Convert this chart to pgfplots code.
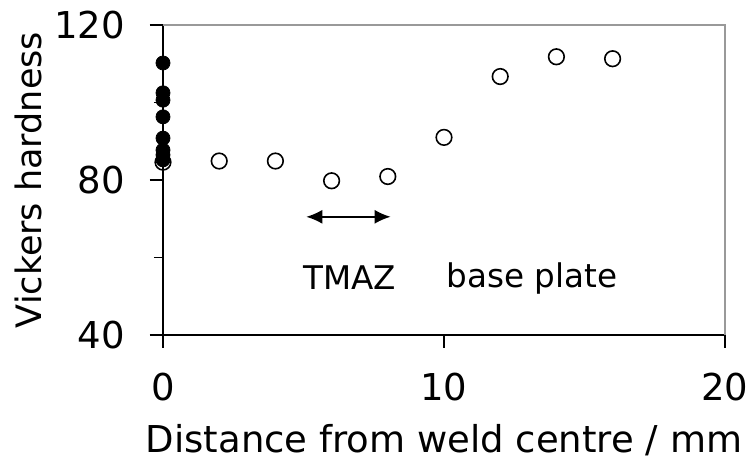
\documentclass[border=0pt]{standalone}
\usepackage{fontspec}
\setmainfont{DejaVu Sans}
\usepackage{pgfplots}
\pgfplotsset{compat=1.18}
\usetikzlibrary{arrows.meta,calc}
\begin{document}
\begin{tikzpicture}
\begin{axis}[name=ax, scale only axis, width=281pt, height=155pt,
  xmin=0, xmax=20, ymin=40, ymax=120,
  axis x line*=bottom, axis y line*=left,
  axis line style={black, line width=0.8pt},
  xtick={0,10,20}, ytick={40,80,120}, minor ytick={60,100},
  xtick align=outside, ytick align=outside,
  major tick length=6.5pt, minor tick length=4.5pt,
  every tick/.style={black, line width=0.9pt},
  /pgf/number format/assume math mode=true,
  ticklabel style={font=\fontsize{18.5}{20}\selectfont},
  ticklabel shift=9pt,
  xlabel={Distance from weld centre / mm},
  ylabel={Vickers hardness},
  xlabel style={font=\fontsize{18.5}{22}\selectfont, at={(axis description cs:0.5,-0.3387)}, anchor=center},
  ylabel style={font=\fontsize{17.5}{22}\selectfont, at={(axis description cs:-0.2402,0.5)}, anchor=center},
  clip=false]
\addplot[only marks, mark=o, mark size=3.9pt, mark options={line width=0.8pt, black}] coordinates {
(0,84.6) (2,84.9) (4,84.9) (6,79.8) (8,80.9) (10,91.0) (12,106.7) (14,111.8) (16,111.3)};
\addplot[only marks, mark=*, mark size=3.5pt, black] coordinates {
(0,110.2) (0,102.5) (0,100.6) (0,96.3) (0,90.8) (0,87.7) (0,86.5) (0,85.2)};
\draw[gray!80, line width=0.6pt] (rel axis cs:0,1) -- (rel axis cs:1,1) -- (rel axis cs:1,0);
% tick marks
\draw[black, line width=0.9pt] (axis cs:-0.463,40) -- (axis cs:0,40);
\draw[black, line width=0.9pt] (axis cs:-0.463,80) -- (axis cs:0,80);
\draw[black, line width=0.9pt] (axis cs:-0.463,120) -- (axis cs:0,120);
\draw[black, line width=0.9pt] (axis cs:-0.32,60) -- (axis cs:0,60);
\draw[black, line width=0.9pt] (axis cs:-0.32,100) -- (axis cs:0,100);
\draw[black, line width=0.9pt] (axis cs:0,37.16) -- (axis cs:0,40);
\draw[black, line width=0.9pt] (axis cs:10,37.16) -- (axis cs:10,40);
\draw[black, line width=0.9pt] (axis cs:20,37.16) -- (axis cs:20,40);
\draw[{Latex[length=8pt,width=7pt]}-{Latex[length=8pt,width=7pt]}, line width=0.8pt] (axis cs:5.1,70.5) -- (axis cs:8.1,70.5);
\node[font=\fontsize{16.3}{18}\selectfont] at (axis cs:6.65,54.7) {TMAZ};
\node[font=\fontsize{16.3}{18}\selectfont] at (axis cs:13.13,54.7) {base plate};
\end{axis}
\pgfresetboundingbox
\path ($(ax.south west)+(-81.5pt,-66.5pt)$) rectangle ($(ax.north east)+(12pt,12.5pt)$);
\end{tikzpicture}
\end{document}
